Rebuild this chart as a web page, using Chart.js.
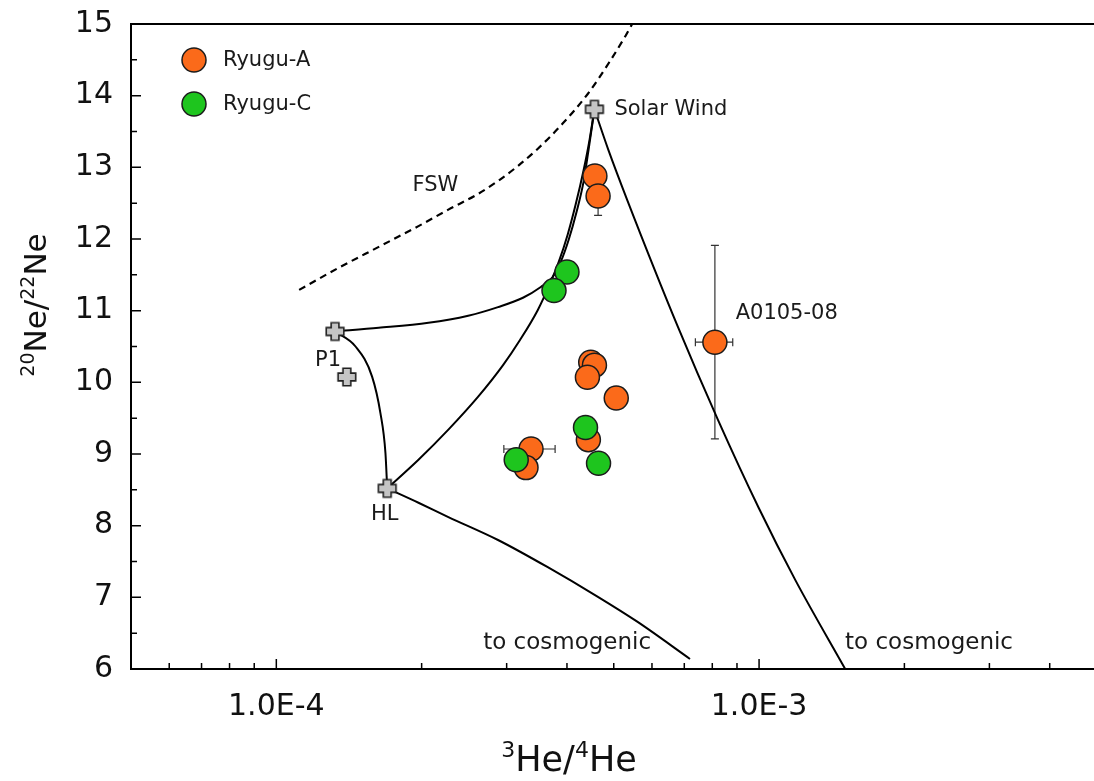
<!DOCTYPE html>
<html>
<head>
<meta charset="utf-8">
<script src="https://cdn.jsdelivr.net/npm/chart.js@4.4.1/dist/chart.umd.min.js"></script>
<style>
  html, body { margin: 0; padding: 0; background: #fff; overflow: hidden; }
  #wrap { width: 1094px; height: 781px; overflow: hidden; }
</style>
</head>
<body>
<div id="wrap"><canvas id="neChart" width="1110" height="781"></canvas></div>
<script>
// Ryugu-A grains (3He/4He , 20Ne/22Ne)
let ryuguA_x = [4.57e-4, 4.64e-4, 8.10e-4, 4.48e-4, 4.56e-4, 4.41e-4, 5.06e-4, 4.43e-4, 3.37e-4, 3.29e-4];
let ryuguA_y = [12.88, 12.60, 10.56, 10.28, 10.24, 10.07, 9.78, 9.20, 9.07, 8.81];
let ryuguA_xErr = [0, 0, 0.72e-4, 0, 0, 0, 0, 0, 0.41e-4, 0];
let ryuguA_yErr = [0, 0.27, 1.35, 0, 0, 0, 0, 0, 0, 0];

// Ryugu-C grains
let ryuguC_x = [4.00e-4, 3.76e-4, 4.37e-4, 4.65e-4, 3.14e-4];
let ryuguC_y = [11.54, 11.28, 9.37, 8.87, 8.92];

// End-members (Solar Wind, P1, P1 alt, HL)
let end_x = [4.56e-4, 1.323e-4, 1.40e-4, 1.697e-4];
let end_y = [13.81, 10.71, 10.075, 8.52];

// Mixing lines between end-members
let p1Sw_x = [1.323e-4, 1.630e-4, 2.066e-4, 2.497e-4, 2.879e-4, 3.243e-4, 3.531e-4, 3.737e-4, 3.882e-4, 4.033e-4, 4.188e-4, 4.330e-4, 4.433e-4, 4.56e-4];
let p1Sw_y = [10.71, 10.76, 10.83, 10.93, 11.05, 11.18, 11.33, 11.47, 11.68, 11.99, 12.38, 12.80, 13.24, 13.81];
let hlSw_x = [1.697e-4, 1.970e-4, 2.272e-4, 2.619e-4, 2.949e-4, 3.197e-4, 3.481e-4, 3.685e-4, 3.846e-4, 4.013e-4, 4.169e-4, 4.330e-4, 4.454e-4, 4.56e-4];
let hlSw_y = [8.52, 8.92, 9.34, 9.80, 10.24, 10.59, 11.01, 11.37, 11.68, 12.06, 12.48, 12.96, 13.38, 13.81];
let p1Hl_x = [1.323e-4, 1.459e-4, 1.579e-4, 1.643e-4, 1.683e-4, 1.697e-4];
let p1Hl_y = [10.71, 10.50, 10.08, 9.57, 9.01, 8.52];
let hlCosmo_x = [1.697e-4, 1.970e-4, 2.272e-4, 2.879e-4, 3.650e-4, 4.627e-4, 5.593e-4, 7.193e-4];
let hlCosmo_y = [8.52, 8.32, 8.12, 7.80, 7.42, 7.01, 6.66, 6.14];
let swCosmo_x = [4.56e-4, 4.875e-4, 5.335e-4, 6.794e-4, 8.215e-4, 9.98e-4, 1.189e-3, 1.508e-3];
let swCosmo_y = [13.81, 13.24, 12.54, 10.77, 9.48, 8.25, 7.24, 6.00];
// FSW (fractionated solar wind) curve
let fsw_x = [1.115e-4, 1.348e-4, 1.630e-4, 1.970e-4, 2.272e-4, 2.619e-4, 2.879e-4, 3.167e-4, 3.481e-4, 3.918e-4, 4.412e-4, 4.898e-4, 5.284e-4, 5.489e-4];
let fsw_y = [11.29, 11.60, 11.89, 12.18, 12.41, 12.63, 12.81, 13.02, 13.26, 13.61, 14.02, 14.47, 14.83, 15.03];

// Axis ticks
let xMajorTicks = [1e-4, 1e-3];
let xMajorLabels = ['1.0E-4', '1.0E-3'];
let xMinorTicks = [6e-5, 7e-5, 8e-5, 9e-5, 2e-4, 3e-4, 4e-4, 5e-4, 6e-4, 7e-4, 8e-4, 9e-4, 2e-3, 3e-3, 4e-3];
let yMajorTicks = [6, 7, 8, 9, 10, 11, 12, 13, 14, 15];
let yMinorTicks = [6.5, 7.5, 8.5, 9.5, 10.5, 11.5, 12.5, 13.5, 14.5];

const FONT = '"DejaVu Sans", "Liberation Sans", Arial, sans-serif';
const ORANGE = '#fb6a1a';
const GREEN = '#1ec51e';

// text labels placed in data coordinates
const notes = [
    {t: 'Solar Wind', x: 5.015e-4, y: 13.80, align: 'left', base: 'middle', size: 21},
    {t: 'FSW', x: 2.136e-4, y: 12.75, align: 'center', base: 'middle', size: 21},
    {t: 'P1', x: 1.28e-4, y: 10.31, align: 'center', base: 'middle', size: 21},
    {t: 'HL', x: 1.677e-4, y: 8.15, align: 'center', base: 'middle', size: 21},
    {t: 'A0105-08', x: 8.944e-4, y: 10.954, align: 'left', base: 'middle', size: 21},
    {t: 'to cosmogenic', x: 2.682e-4, y: 6.279, align: 'left', base: 'alphabetic', size: 23},
    {t: 'to cosmogenic', x: 1.507e-3, y: 6.279, align: 'left', base: 'alphabetic', size: 23}
];

function toPoints(xs, ys){
    return xs.map((x, i) => ({x: x, y: ys[i]}));
}

// fat grey plus used for the end-member symbols
function makeCross(){
    let c = document.createElement('canvas');
    c.width = 22; c.height = 22;
    let g = c.getContext('2d');
    let s = 8.8, a = 3.9;
    g.translate(11, 11);
    g.beginPath();
    g.moveTo(-a, -s); g.lineTo(a, -s); g.lineTo(a, -a); g.lineTo(s, -a);
    g.lineTo(s, a); g.lineTo(a, a); g.lineTo(a, s); g.lineTo(-a, s);
    g.lineTo(-a, a); g.lineTo(-s, a); g.lineTo(-s, -a); g.lineTo(-a, -a);
    g.closePath();
    g.fillStyle = '#c4c4c4';
    g.fill();
    g.lineWidth = 1.6;
    g.strokeStyle = '#222';
    g.stroke();
    return c;
}

function lineSet(xs, ys, dashed){
    return {
        type: 'scatter',
        data: toPoints(xs, ys),
        showLine: true,
        borderColor: '#000',
        borderWidth: dashed ? 2.2 : 2,
        borderDash: dashed ? [7, 5] : [],
        pointRadius: 0,
        cubicInterpolationMode: 'monotone',
        order: 3
    };
}

function drawSupText(ctx, parts, cx, baseY, big, small){
    let w = 0;
    parts.forEach(p => {
        ctx.font = (p.sup ? small : big) + 'px ' + FONT;
        w += ctx.measureText(p.t).width;
    });
    let x = cx - w / 2;
    ctx.textAlign = 'left';
    ctx.textBaseline = 'alphabetic';
    parts.forEach(p => {
        ctx.font = (p.sup ? small : big) + 'px ' + FONT;
        ctx.fillText(p.t, x, p.sup ? baseY - big * 0.40 : baseY);
        x += ctx.measureText(p.t).width;
    });
}

const decorations = {
    id: 'decorations',
    beforeDatasetsDraw(chart){
        // error bars
        const ctx = chart.ctx, xs = chart.scales.x, ys = chart.scales.y;
        ctx.save();
        ctx.strokeStyle = '#333';
        ctx.lineWidth = 1.2;
        ctx.beginPath();
        for (let i in ryuguA_x){
            let px = xs.getPixelForValue(ryuguA_x[i]);
            let py = ys.getPixelForValue(ryuguA_y[i]);
            if (ryuguA_xErr[i] > 0){
                let x1 = xs.getPixelForValue(ryuguA_x[i] - ryuguA_xErr[i]);
                let x2 = xs.getPixelForValue(ryuguA_x[i] + ryuguA_xErr[i]);
                ctx.moveTo(x1, py); ctx.lineTo(x2, py);
                ctx.moveTo(x1, py - 4); ctx.lineTo(x1, py + 4);
                ctx.moveTo(x2, py - 4); ctx.lineTo(x2, py + 4);
            }
            if (ryuguA_yErr[i] > 0){
                let y1 = ys.getPixelForValue(ryuguA_y[i] - ryuguA_yErr[i]);
                let y2 = ys.getPixelForValue(ryuguA_y[i] + ryuguA_yErr[i]);
                ctx.moveTo(px, y1); ctx.lineTo(px, y2);
                ctx.moveTo(px - 4, y1); ctx.lineTo(px + 4, y1);
                ctx.moveTo(px - 4, y2); ctx.lineTo(px + 4, y2);
            }
        }
        ctx.stroke();
        ctx.restore();
    },
    afterDraw(chart){
        const ctx = chart.ctx, xs = chart.scales.x, ys = chart.scales.y, a = chart.chartArea;
        ctx.save();

        // top frame line
        ctx.strokeStyle = '#000';
        ctx.lineWidth = 2;
        ctx.beginPath();
        ctx.moveTo(a.left, a.top); ctx.lineTo(a.right, a.top);
        ctx.stroke();

        // inward tick marks
        ctx.lineWidth = 1.5;
        ctx.beginPath();
        xMajorTicks.forEach(v => { let p = xs.getPixelForValue(v); ctx.moveTo(p, a.bottom); ctx.lineTo(p, a.bottom - 10); });
        xMinorTicks.forEach(v => { let p = xs.getPixelForValue(v); ctx.moveTo(p, a.bottom); ctx.lineTo(p, a.bottom - 6); });
        yMajorTicks.forEach(v => { let p = ys.getPixelForValue(v); ctx.moveTo(a.left, p); ctx.lineTo(a.left + 10, p); });
        yMinorTicks.forEach(v => { let p = ys.getPixelForValue(v); ctx.moveTo(a.left, p); ctx.lineTo(a.left + 6, p); });
        ctx.stroke();

        // annotations
        ctx.fillStyle = '#1a1a1a';
        notes.forEach(n => {
            ctx.font = n.size + 'px ' + FONT;
            ctx.textAlign = n.align;
            ctx.textBaseline = n.base;
            ctx.fillText(n.t, xs.getPixelForValue(n.x), ys.getPixelForValue(n.y));
        });

        // legend in the upper left corner
        let legend = [[ORANGE, 'Ryugu-A'], [GREEN, 'Ryugu-C']];
        legend.forEach((item, i) => {
            let cy = a.top + 36 + i * 44;
            ctx.beginPath();
            ctx.arc(a.left + 63, cy, 12, 0, Math.PI * 2);
            ctx.fillStyle = item[0];
            ctx.fill();
            ctx.lineWidth = 1.5;
            ctx.strokeStyle = '#1c1c1c';
            ctx.stroke();
            ctx.fillStyle = '#1a1a1a';
            ctx.font = '21px ' + FONT;
            ctx.textAlign = 'left';
            ctx.textBaseline = 'middle';
            ctx.fillText(item[1], a.left + 92, cy + 1);
        });

        // axis titles
        ctx.fillStyle = '#111';
        drawSupText(ctx, [{t: '3', sup: true}, {t: 'He/'}, {t: '4', sup: true}, {t: 'He'}], 569, 771, 35, 22);
        ctx.translate(46, 305);
        ctx.rotate(-Math.PI / 2);
        drawSupText(ctx, [{t: '20', sup: true}, {t: 'Ne/'}, {t: '22', sup: true}, {t: 'Ne'}], 0, 0, 31, 19);
        ctx.restore();
    }
};

let crossImg = makeCross();

new Chart(document.getElementById('neChart'), {
    type: 'scatter',
    data: {
        datasets: [
            {
                label: 'Ryugu-C',
                data: toPoints(ryuguC_x, ryuguC_y),
                backgroundColor: GREEN,
                borderColor: '#1c1c1c',
                borderWidth: 1.5,
                pointRadius: 12,
                order: 0
            },
            {
                label: 'Ryugu-A',
                data: toPoints(ryuguA_x, ryuguA_y),
                backgroundColor: ORANGE,
                borderColor: '#1c1c1c',
                borderWidth: 1.5,
                pointRadius: 12,
                order: 1
            },
            {
                label: 'End-members',
                data: toPoints(end_x, end_y),
                pointStyle: crossImg,
                pointRadius: 9,
                order: 2
            },
            lineSet(p1Sw_x, p1Sw_y, false),
            lineSet(hlSw_x, hlSw_y, false),
            lineSet(p1Hl_x, p1Hl_y, false),
            lineSet(hlCosmo_x, hlCosmo_y, false),
            lineSet(swCosmo_x, swCosmo_y, false),
            lineSet(fsw_x, fsw_y, true)
        ]
    },
    options: {
        responsive: false,
        devicePixelRatio: 1,
        animation: false,
        events: [],
        layout: { padding: { top: 24, right: 8, left: 0, bottom: 0 } },
        plugins: {
            legend: { display: false },
            tooltip: { enabled: false }
        },
        scales: {
            x: {
                type: 'logarithmic',
                min: 5e-5,
                max: 5e-3,
                grid: { display: false, drawTicks: false },
                border: { display: true, color: '#000', width: 2 },
                afterBuildTicks: s => { s.ticks = xMajorTicks.map(v => ({value: v, major: true})); },
                afterFit: s => { s.height = 112; },
                ticks: {
                    autoSkip: false,
                    maxRotation: 0,
                    padding: 20,
                    color: '#111',
                    font: { family: FONT, size: 30 },
                    callback: v => {
                        let i = xMajorTicks.indexOf(v);
                        return i >= 0 ? xMajorLabels[i] : '';
                    }
                }
            },
            y: {
                min: 6,
                max: 15,
                grid: { display: false, drawTicks: false },
                border: { display: true, color: '#000', width: 2 },
                afterBuildTicks: s => { s.ticks = yMajorTicks.map(v => ({value: v})); },
                afterFit: s => {
                    s.width = 131;
                    // keep the label overhang from pushing the plot frame down
                    s.paddingTop = 0;
                    s.paddingBottom = 0;
                },
                ticks: {
                    autoSkip: false,
                    padding: 18,
                    color: '#111',
                    font: { family: FONT, size: 30 },
                    callback: v => String(v)
                }
            }
        }
    },
    plugins: [decorations]
});
</script>
</body>
</html>
